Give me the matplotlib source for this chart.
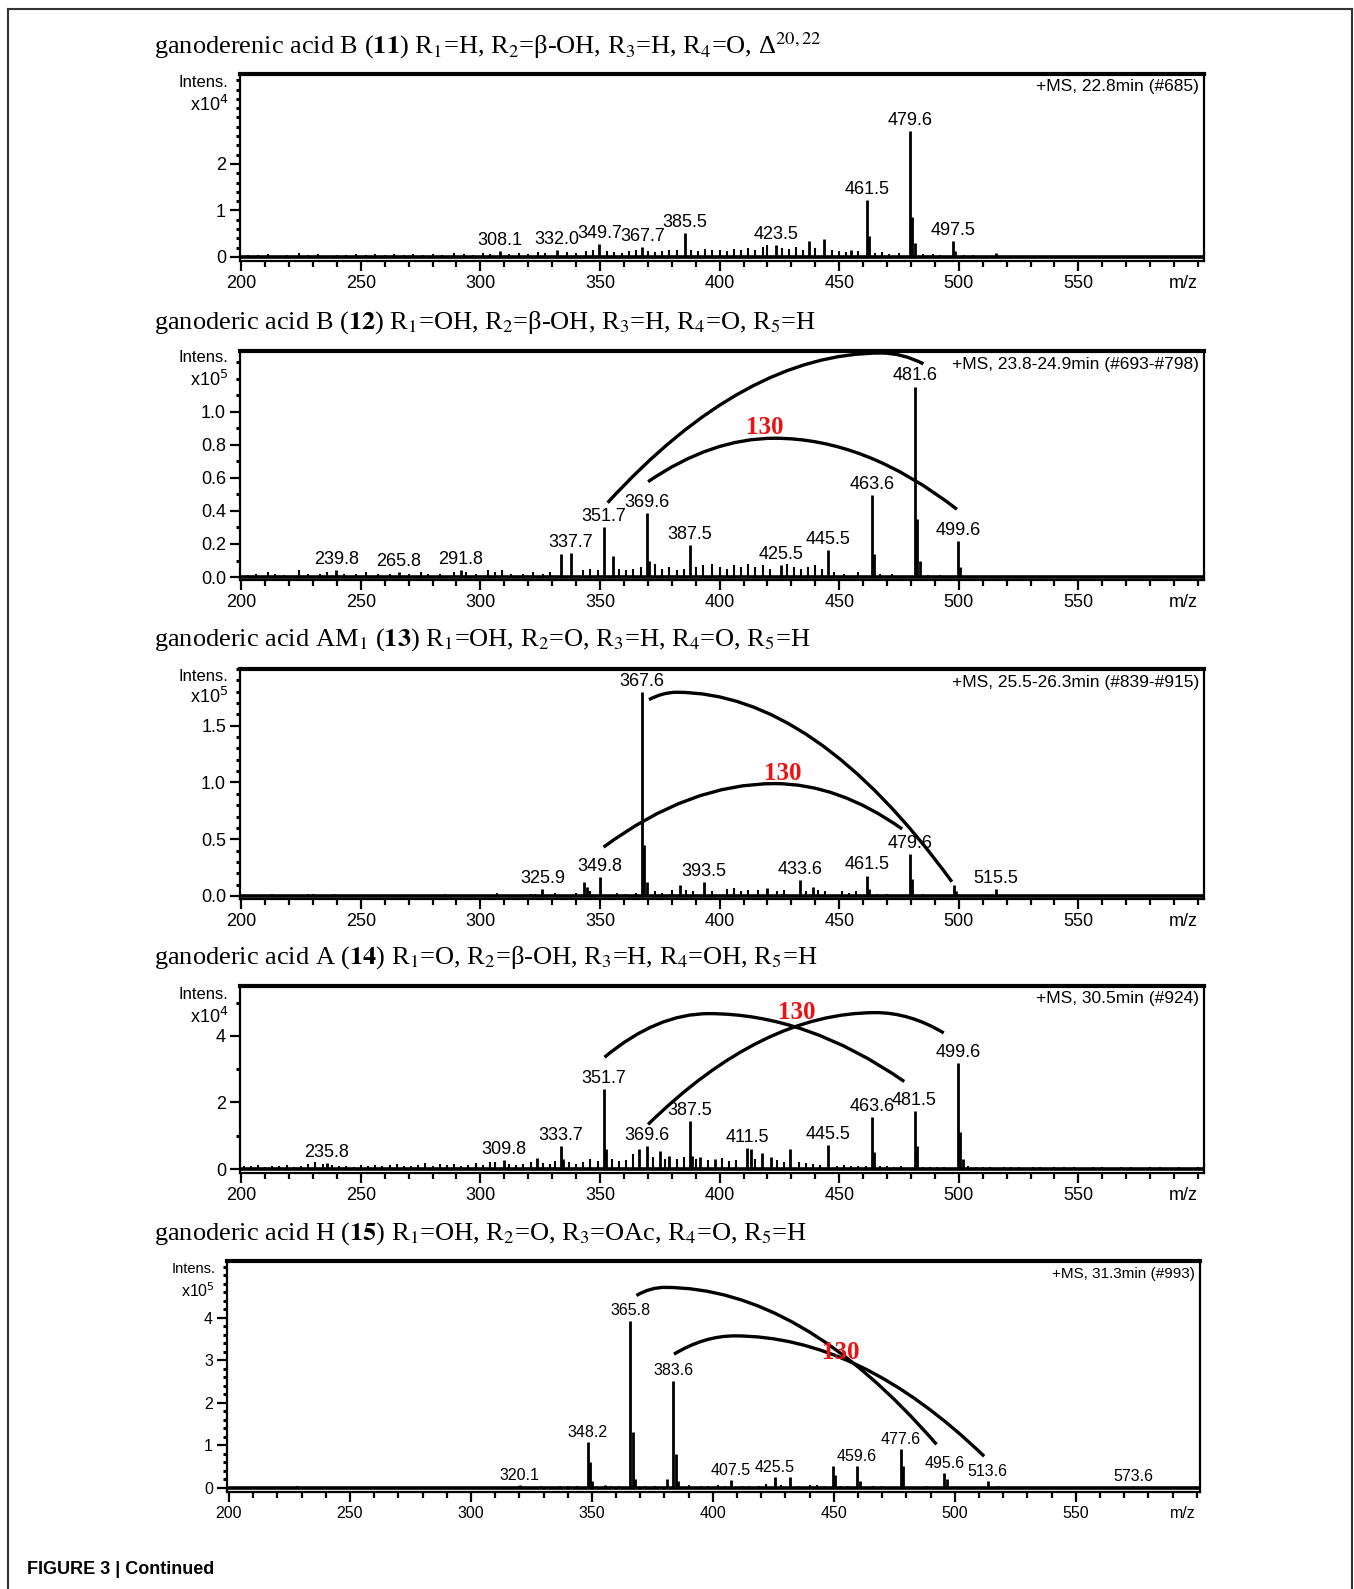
"""Mass spectra of ganoderic acids 11-15 (Figure 3, continued)."""

import matplotlib
matplotlib.use("Agg")
import matplotlib.pyplot as plt
from matplotlib.path import Path
from matplotlib.patches import PathPatch
from matplotlib.lines import Line2D
from matplotlib.ticker import MultipleLocator, FixedLocator, FormatStrFormatter

plt.rcParams["mathtext.fontset"] = "stix"

SANS = ["Liberation Sans Narrow", "Liberation Sans", "DejaVu Sans"]
SERIF = ["Liberation Serif", "DejaVu Serif"]
W, H = 1354, 1589

# ---------------------------------------------------------------- data
# panel 11
MZ_11 = [461.5, 462.5, 479.6, 480.6, 481.6, 497.5, 498.5, 385.5, 423.5, 308.1,
         332.0, 349.7, 367.7, 437.5, 443.5, 455.0, 515.5]
INT_11 = [1.22, 0.45, 2.70, 0.85, 0.30, 0.35, 0.12, 0.52, 0.25, 0.12,
          0.15, 0.28, 0.22, 0.35, 0.38, 0.15, 0.08]
NOISE_MZ_11 = [203, 207, 211, 215, 219, 224, 228, 232, 236, 240, 244, 248, 252, 256,
               260, 264, 268, 272, 276, 280, 284, 289, 293, 297, 301, 304, 312, 316,
               320, 324, 327, 336, 340, 344, 347, 353, 356, 359, 362, 365, 370, 373,
               376, 379, 382, 388, 391, 394, 397, 400, 403, 406, 409, 412, 415, 418,
               420, 426, 429, 432, 435, 440, 447, 450, 453, 458, 465, 468, 471, 475,
               485, 489, 492, 502, 506, 510]
NOISE_INT_11 = [.05, .04, .07, .03, .05, .08, .04, .06, .03, .05, .04, .06, .05, .07,
                .04, .06, .05, .07, .05, .06, .04, .09, .06, .05, .08, .07, .06, .09,
                .07, .10, .08, .10, .09, .12, .14, .12, .10, .09, .12, .14, .12, .10,
                .13, .16, .14, .15, .12, .18, .14, .16, .13, .18, .15, .20, .16, .22,
                .26, .20, .18, .22, .15, .20, .14, .12, .10, .12, .08, .10, .07, .09,
                .07, .06, .05, .05, .04, .03]
LABELS_11 = [308.1, 332.0, 349.7, 367.7, 385.5, 423.5, 461.5, 479.6, 497.5]

# panel 12
MZ_12 = [481.6, 482.6, 483.6, 463.6, 464.6, 499.6, 500.6, 351.7, 355.5, 369.6,
         370.6, 387.5, 337.7, 333.5, 445.5, 425.5, 239.8, 265.8, 291.8]
INT_12 = [1.153, 0.35, 0.10, 0.497, 0.14, 0.22, 0.06, 0.30, 0.13, 0.386,
          0.10, 0.196, 0.147, 0.14, 0.165, 0.07, 0.04, 0.03, 0.04]
NOISE_MZ_12 = [203, 206, 211, 214, 218, 224, 228, 233, 236, 243, 248, 252, 257, 262,
               270, 275, 278, 283, 289, 294, 298, 303, 306, 309, 313, 318, 322, 326,
               329, 343, 346, 349, 358, 361, 364, 367, 373, 376, 379, 382, 385, 390,
               393, 397, 400, 403, 406, 409, 412, 415, 418, 421, 428, 431, 434, 437,
               440, 443, 448, 452, 458, 467, 472, 487, 492]
NOISE_INT_12 = [.01, .02, .03, .02, .01, .04, .02, .02, .03, .02, .02, .03, .02, .02,
                .02, .03, .02, .02, .03, .03, .02, .04, .03, .04, .02, .02, .03, .02,
                .03, .04, .05, .04, .05, .04, .05, .06, .08, .05, .06, .04, .05, .06,
                .07, .08, .06, .05, .07, .06, .08, .06, .07, .05, .08, .06, .05, .06,
                .07, .05, .03, .02, .03, .02, .02, .01, .01]
LABELS_12 = [239.8, 265.8, 291.8, 337.7, 351.7, 369.6, 387.5, 425.5, 445.5,
             463.6, 481.6, 499.6]

# panel 13
MZ_13 = [367.6, 368.6, 369.6, 479.6, 480.6, 349.8, 343.5, 344.5, 325.9, 393.5,
         383.5, 433.6, 461.5, 462.5, 497.8, 498.8, 515.5, 439.0, 420.0]
INT_13 = [1.80, 0.45, 0.12, 0.366, 0.15, 0.17, 0.12, 0.08, 0.06, 0.12,
          0.10, 0.14, 0.18, 0.06, 0.10, 0.04, 0.06, 0.08, 0.07]
NOISE_MZ_13 = [213, 228, 230, 239, 267, 285, 296, 307, 321, 323, 331, 340, 346, 357,
               361, 365, 373, 376, 380, 386, 389, 397, 403, 406, 409, 412, 416, 424,
               427, 436, 441, 444, 451, 454, 457, 466, 470, 485, 503, 531, 600]
NOISE_INT_13 = [.02, .02, .02, .02, .01, .02, .01, .03, .02, .02, .03, .03, .04, .03,
                .02, .03, .04, .03, .05, .05, .04, .04, .06, .07, .04, .05, .05, .04,
                .05, .04, .05, .04, .04, .03, .04, .02, .02, .02, .01, .01, .01]
LABELS_13 = [325.9, 349.8, 367.6, 393.5, 433.6, 461.5, 479.6, 515.5]

# panel 14
MZ_14 = [499.6, 500.6, 501.6, 351.7, 352.7, 481.5, 482.5, 463.6, 464.6, 387.5,
         388.5, 333.7, 334.5, 369.6, 366.5, 375.0, 445.5, 411.5, 413.2, 417.8,
         421.5, 429.5, 309.8, 235.8, 323.5, 379.0, 392.0, 398.0]
INT_14 = [3.18, 1.10, 0.30, 2.41, 0.60, 1.74, 0.70, 1.56, 0.50, 1.44,
          0.40, 0.70, 0.30, 0.70, 0.60, 0.55, 0.73, 0.62, 0.60, 0.48,
          0.35, 0.60, 0.27, 0.18, 0.32, 0.40, 0.35, 0.30]
NOISE_MZ_14 = [201, 204, 207, 210, 213, 216, 219, 222, 225, 228, 231, 234, 238, 241,
               244, 247, 250, 253, 256, 259, 262, 265, 268, 271, 274, 277, 280, 283,
               286, 289, 292, 295, 298, 301, 304, 306, 312, 315, 318, 321, 326, 329,
               331, 337, 340, 343, 346, 349, 355, 358, 361, 364, 372, 377, 382, 385,
               390, 395, 401, 404, 407, 415, 424, 427, 433, 436, 439, 442, 449, 452,
               455, 458, 461, 467, 470, 473, 476, 485, 488, 491, 494, 497, 504, 507,
               510, 513, 516, 519, 522, 525, 528, 531, 534, 537, 540, 544, 548, 552,
               556, 560, 564, 568, 572, 576, 580, 584, 588, 592, 596, 600]
NOISE_INT_14 = [.10, .08, .12, .06, .10, .09, .12, .07, .10, .14, .20, .16, .12, .08,
                .10, .07, .12, .09, .13, .08, .11, .14, .10, .09, .12, .18, .10, .14,
                .12, .16, .10, .13, .17, .12, .20, .22, .15, .12, .14, .20, .18, .15,
                .25, .20, .16, .22, .30, .25, .30, .25, .28, .45, .35, .30, .30, .35,
                .30, .28, .32, .25, .28, .30, .28, .22, .20, .18, .15, .12, .10, .12,
                .10, .08, .10, .08, .10, .06, .08, .06, .05, .07, .05, .04, .08, .05,
                .07, .05, .04, .06, .05, .07, .04, .05, .06, .04, .05, .07, .05, .04,
                .06, .05, .04, .06, .05, .04, .05, .06, .04, .05, .04, .05]
LABELS_14 = [235.8, 309.8, 333.7, 351.7, 369.6, 387.5, 411.5, 445.5, 463.6,
             481.5, 499.6]

# panel 15
MZ_15 = [365.8, 366.8, 367.8, 383.6, 384.6, 385.6, 348.2, 349.2, 350.0, 477.6,
         478.6, 459.6, 460.6, 449.6, 450.6, 495.6, 496.6, 513.6, 425.5, 431.8,
         407.5, 320.1, 573.6, 355.5, 381.0]
INT_15 = [3.93, 1.30, 0.20, 2.52, 0.80, 0.15, 1.07, 0.60, 0.15, 0.90,
          0.50, 0.50, 0.15, 0.50, 0.30, 0.35, 0.20, 0.15, 0.25, 0.25,
          0.18, 0.06, 0.05, 0.06, 0.20]
NOISE_MZ_15 = [205, 228, 302, 305, 310, 320, 329, 337, 340, 344, 358, 361, 372, 376,
               390, 395, 398, 402, 405, 412, 415, 419, 422, 428, 435, 440, 443, 446,
               453, 456, 466, 470, 483, 488, 503, 518, 538, 556]
NOISE_INT_15 = [.01, .03, .02, .02, .02, .04, .04, .03, .04, .03, .03, .04, .05, .03,
                .06, .05, .04, .06, .05, .04, .05, .05, .08, .06, .05, .06, .07, .04,
                .05, .04, .03, .04, .02, .03, .02, .03, .02, .02]
LABELS_15 = [320.1, 348.2, 365.8, 383.6, 407.5, 425.5, 459.6, 477.6, 495.6,
             513.6, 573.6]

# 130-loss arcs: (start, apex, end) in data units
ARCS_12 = [((353.2, 0.45), (467.5, 1.356), (485.2, 1.29)),
           ((370.1, 0.577), (423.0, 0.84), (499.2, 0.41))]
ARCS_13 = [((370.5, 1.73), (382.0, 1.795), (497.1, 0.125)),
           ((351.5, 0.43), (423.0, 0.99), (476.3, 0.59))]
ARCS_14 = [((351.9, 3.36), (395.5, 4.67), (477.2, 2.63)),
           ((370.1, 1.34), (465.3, 4.70), (493.7, 4.09))]
ARCS_15 = [((368.4, 4.52), (380.0, 4.71), (492.4, 1.02)),
           ((383.9, 3.14), (409.0, 3.57), (512.1, 0.74))]


def rect(l, t, r, b):
    return [l / W, 1 - b / H, (r - l) / W, (b - t) / H]


def arc(ax, p0, m, p1):
    verts = [p0, ((p0[0] + m[0]) / 2, m[1]), m, ((m[0] + p1[0]) / 2, m[1]), p1]
    codes = [Path.MOVETO, Path.CURVE3, Path.CURVE3, Path.CURVE3, Path.CURVE3]
    ax.add_patch(PathPatch(Path(verts, codes), fill=False, lw=2.4, ec="black",
                           clip_on=False, zorder=4))


def panel(fig, box, title, title_y, mz, inten, noise_mz, noise_int, labels, scan,
          ylim, major, minor, fmt, expo, int_y, exp_y, arcs=(), mark=None,
          xlim=(199.5, 602.5), fs=13):
    ax = fig.add_axes(rect(*box))
    fig.text(154 / W, 1 - title_y / H, title, fontsize=19, family=SERIF, va="center")

    ax.vlines(noise_mz, 0, noise_int, color="black", lw=1.5)
    ax.vlines(mz, 0, inten, color="black", lw=2.0)
    ax.plot(xlim, [0, 0], color="black", lw=2.6, solid_capstyle="butt")

    peak = dict(zip(mz, inten))
    for x in labels:
        ax.annotate(f"{x:.1f}", (x, peak[x]), xytext=(0, 1.5), textcoords="offset points",
                    ha="center", va="bottom", fontsize=fs, family=SANS)

    for p0, m, p1 in arcs:
        arc(ax, p0, m, p1)
    if mark:
        ax.text(mark[0], mark[1], "130", color="#ee1111", fontsize=18, fontweight="bold",
                family=SERIF, ha="center", va="center", zorder=5)

    ax.set_xlim(*xlim)
    ax.set_ylim(*ylim)
    ax.xaxis.set_major_locator(FixedLocator([200, 250, 300, 350, 400, 450, 500, 550]))
    ax.xaxis.set_minor_locator(MultipleLocator(10))
    ax.yaxis.set_major_locator(FixedLocator(major))
    ax.yaxis.set_minor_locator(MultipleLocator(minor))
    ax.yaxis.set_major_formatter(FormatStrFormatter(fmt))
    ax.tick_params(axis="both", which="major", direction="out", length=7, width=1.6,
                   labelsize=fs, pad=3)
    ax.tick_params(axis="both", which="minor", direction="out", length=4.5, width=1.6)
    ax.tick_params(axis="y", which="minor", length=3, width=2.2)
    for lab in ax.get_xticklabels() + ax.get_yticklabels():
        lab.set_family(SANS)

    for side in ("left", "bottom", "right"):
        ax.spines[side].set_linewidth(1.6)
    ax.spines["top"].set_linewidth(3)

    ax.annotate("m/z", xy=(594, 0), xycoords=("data", "axes fraction"), xytext=(0, -10),
                textcoords="offset points", ha="center", va="top", fontsize=fs, family=SANS)
    ax.text(-0.012, int_y, "Intens.", transform=ax.transAxes, ha="right", va="center",
            fontsize=fs - 1, family=SANS)
    ax.text(-0.012, exp_y, "x10$^{%d}$" % expo, transform=ax.transAxes, ha="right",
            va="center", fontsize=fs, family=SANS, math_fontfamily="dejavusans")
    ax.text(0.995, 0.975, scan, transform=ax.transAxes, ha="right", va="top",
            fontsize=fs - 0.5, family=SANS)
    return ax


fig = plt.figure(figsize=(W / 100, H / 100), dpi=100)

panel(fig, (240, 74, 1204, 261),
      r"ganoderenic acid B ($\mathbf{11}$) R$_1$=H, R$_2$=β-OH, R$_3$=H, R$_4$=O, Δ$^{20,22}$",
      46, MZ_11, INT_11, NOISE_MZ_11, NOISE_INT_11, LABELS_11, "+MS, 22.8min (#685)",
      (-0.087, 3.935), [0, 1, 2], 0.2, "%d", 4, 0.957, 0.832)

panel(fig, (240, 351, 1204, 580),
      r"ganoderic acid B ($\mathbf{12}$) R$_1$=OH, R$_2$=β-OH, R$_3$=H, R$_4$=O, R$_5$=H",
      323, MZ_12, INT_12, NOISE_MZ_12, NOISE_INT_12, LABELS_12,
      "+MS, 23.8-24.9min (#693-#798)",
      (-0.018, 1.368), [0.0, 0.2, 0.4, 0.6, 0.8, 1.0], 0.1, "%.1f", 5, 0.973, 0.872,
      arcs=ARCS_12, mark=(419, 0.908))

panel(fig, (240, 669, 1204, 899),
      r"ganoderic acid AM$_1$ ($\mathbf{13}$) R$_1$=OH, R$_2$=O, R$_3$=H, R$_4$=O, R$_5$=H",
      640, MZ_13, INT_13, NOISE_MZ_13, NOISE_INT_13, LABELS_13,
      "+MS, 25.5-26.3min (#839-#915)",
      (-0.027, 2.0), [0.0, 0.5, 1.0, 1.5], 0.1, "%.1f", 5, 0.969, 0.877,
      arcs=ARCS_13, mark=(426.4, 1.08))

panel(fig, (240, 986, 1204, 1173),
      r"ganoderic acid A ($\mathbf{14}$) R$_1$=O, R$_2$=β-OH, R$_3$=H, R$_4$=OH, R$_5$=H",
      958, MZ_14, INT_14, NOISE_MZ_14, NOISE_INT_14, LABELS_14, "+MS, 30.5min (#924)",
      (-0.12, 5.5), [0, 2, 4], 1, "%d", 4, 0.957, 0.837,
      arcs=ARCS_14, mark=(432.3, 4.70))

panel(fig, (227, 1261, 1200, 1492),
      r"ganoderic acid H ($\mathbf{15}$) R$_1$=OH, R$_2$=O, R$_3$=OAc, R$_4$=O, R$_5$=H",
      1234, MZ_15, INT_15, NOISE_MZ_15, NOISE_INT_15, LABELS_15, "+MS, 31.3min (#993)",
      (-0.1, 5.33), [0, 1, 2, 3, 4], 0.2, "%d", 5, 0.965, 0.873,
      arcs=ARCS_15, mark=(453, 3.17), xlim=(199.2, 601.3), fs=11.5)

# outer frame and caption
frame = dict(color="#333333", lw=1.5)
fig.add_artist(Line2D([8 / W, 8 / W], [0, 1 - 9 / H], **frame))
fig.add_artist(Line2D([8 / W, 1352 / W], [1 - 9 / H, 1 - 9 / H], **frame))
fig.add_artist(Line2D([1352 / W, 1352 / W], [1 - 9 / H, 0], **frame))
fig.text(27 / W, 1 - 1569 / H, "FIGURE 3 | Continued", fontsize=13, fontweight="bold",
         family=["Liberation Sans", "DejaVu Sans"], va="center")

fig.savefig("out.png", dpi=100)
